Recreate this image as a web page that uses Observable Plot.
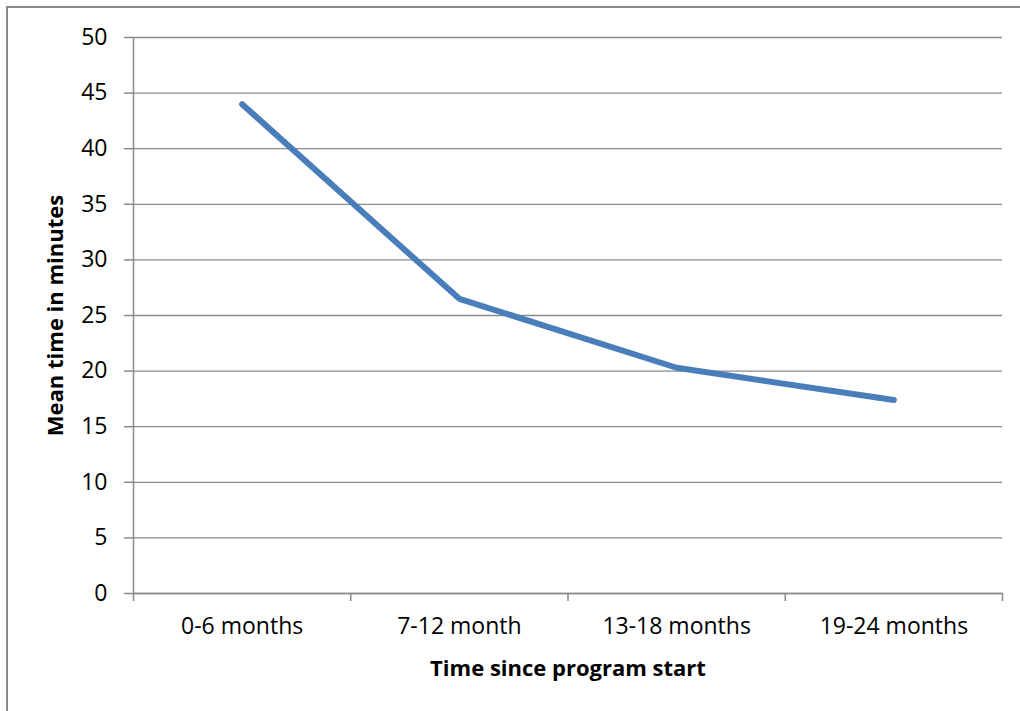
<!DOCTYPE html>
<html>
<head>
<meta charset="utf-8">
<script src="https://cdn.jsdelivr.net/npm/d3@7"></script>
<script src="https://cdn.jsdelivr.net/npm/@observablehq/plot@0.6"></script>
<style>
  html, body { margin: 0; padding: 0; overflow: hidden; background: #fff; width: 1020px; height: 711px; }
  #edge { position: absolute; left: 6px; top: 6px; right: 0; bottom: 0; border-left: 2px solid #8a8a8a; border-top: 2px solid #8a8a8a; }
  #chart { position: absolute; left: 0; top: 0; }
</style>
</head>
<body>
<div id="edge"></div>
<div id="chart"></div>
<script>
// Mean session time by period since the program started
const categories = ["0-6 months", "7-12 month", "13-18 months", "19-24 months"];
const meanMinutes = [44.0, 26.5, 20.3, 17.4];
const yTicks = [0, 5, 10, 15, 20, 25, 30, 35, 40, 45, 50];
const yTitle = "Mean time in minutes";
const xTitle = "Time since program start";

// Each category occupies one unit on the x scale; the point sits at its middle
const rows = categories.map((c, i) => ({category: c, pos: i + 0.5, minutes: meanMinutes[i]}));
const boundaries = d3.range(categories.length + 1);

const gridColor = "#8a8a8a";

const chart = Plot.plot({
  width: 1020,
  height: 711,
  marginLeft: 133,
  marginRight: 18,
  marginTop: 37,
  marginBottom: 118,
  style: {fontFamily: "'Open Sans', sans-serif", fontSize: "23px", color: "#000", background: "transparent"},
  x: {type: "linear", domain: [0, categories.length], axis: null},
  y: {domain: [0, 50], axis: null},
  marks: [
    Plot.gridY(yTicks, {stroke: gridColor, strokeOpacity: 1, strokeWidth: 1.3}),
    Plot.ruleX([0], {y1: 0, y2: 50, stroke: gridColor, strokeWidth: 1.5}),
    Plot.ruleY([0], {stroke: gridColor, strokeWidth: 1.5}),
    Plot.axisY(yTicks, {tickSize: 9, tickPadding: 17, stroke: gridColor, strokeWidth: 1.5, fill: "#000", label: null}),
    Plot.axisX(boundaries, {tickSize: 8, stroke: gridColor, strokeWidth: 1.5, tickFormat: () => "", label: null}),
    Plot.axisX(rows.map(d => d.pos), {
      tickSize: 0, tickPadding: 24, fill: "#000", label: null,
      tickFormat: d => categories[Math.round(d - 0.5)]
    }),
    Plot.line(rows, {
      x: "pos", y: "minutes",
      stroke: "#4a7ebb", strokeWidth: 6,
      strokeLinecap: "round", strokeLinejoin: "round"
    }),
    Plot.text([yTitle], {
      frameAnchor: "left", rotate: -90, dx: -78,
      text: d => d, fontWeight: "bold", fontSize: 22, fill: "#000",
      textAnchor: "middle", lineAnchor: "middle"
    }),
    Plot.text([xTitle], {
      frameAnchor: "bottom", dy: 75,
      text: d => d, fontWeight: "bold", fontSize: 22, fill: "#000",
      textAnchor: "middle", lineAnchor: "middle"
    })
  ]
});

document.getElementById("chart").appendChild(chart);
</script>
</body>
</html>
